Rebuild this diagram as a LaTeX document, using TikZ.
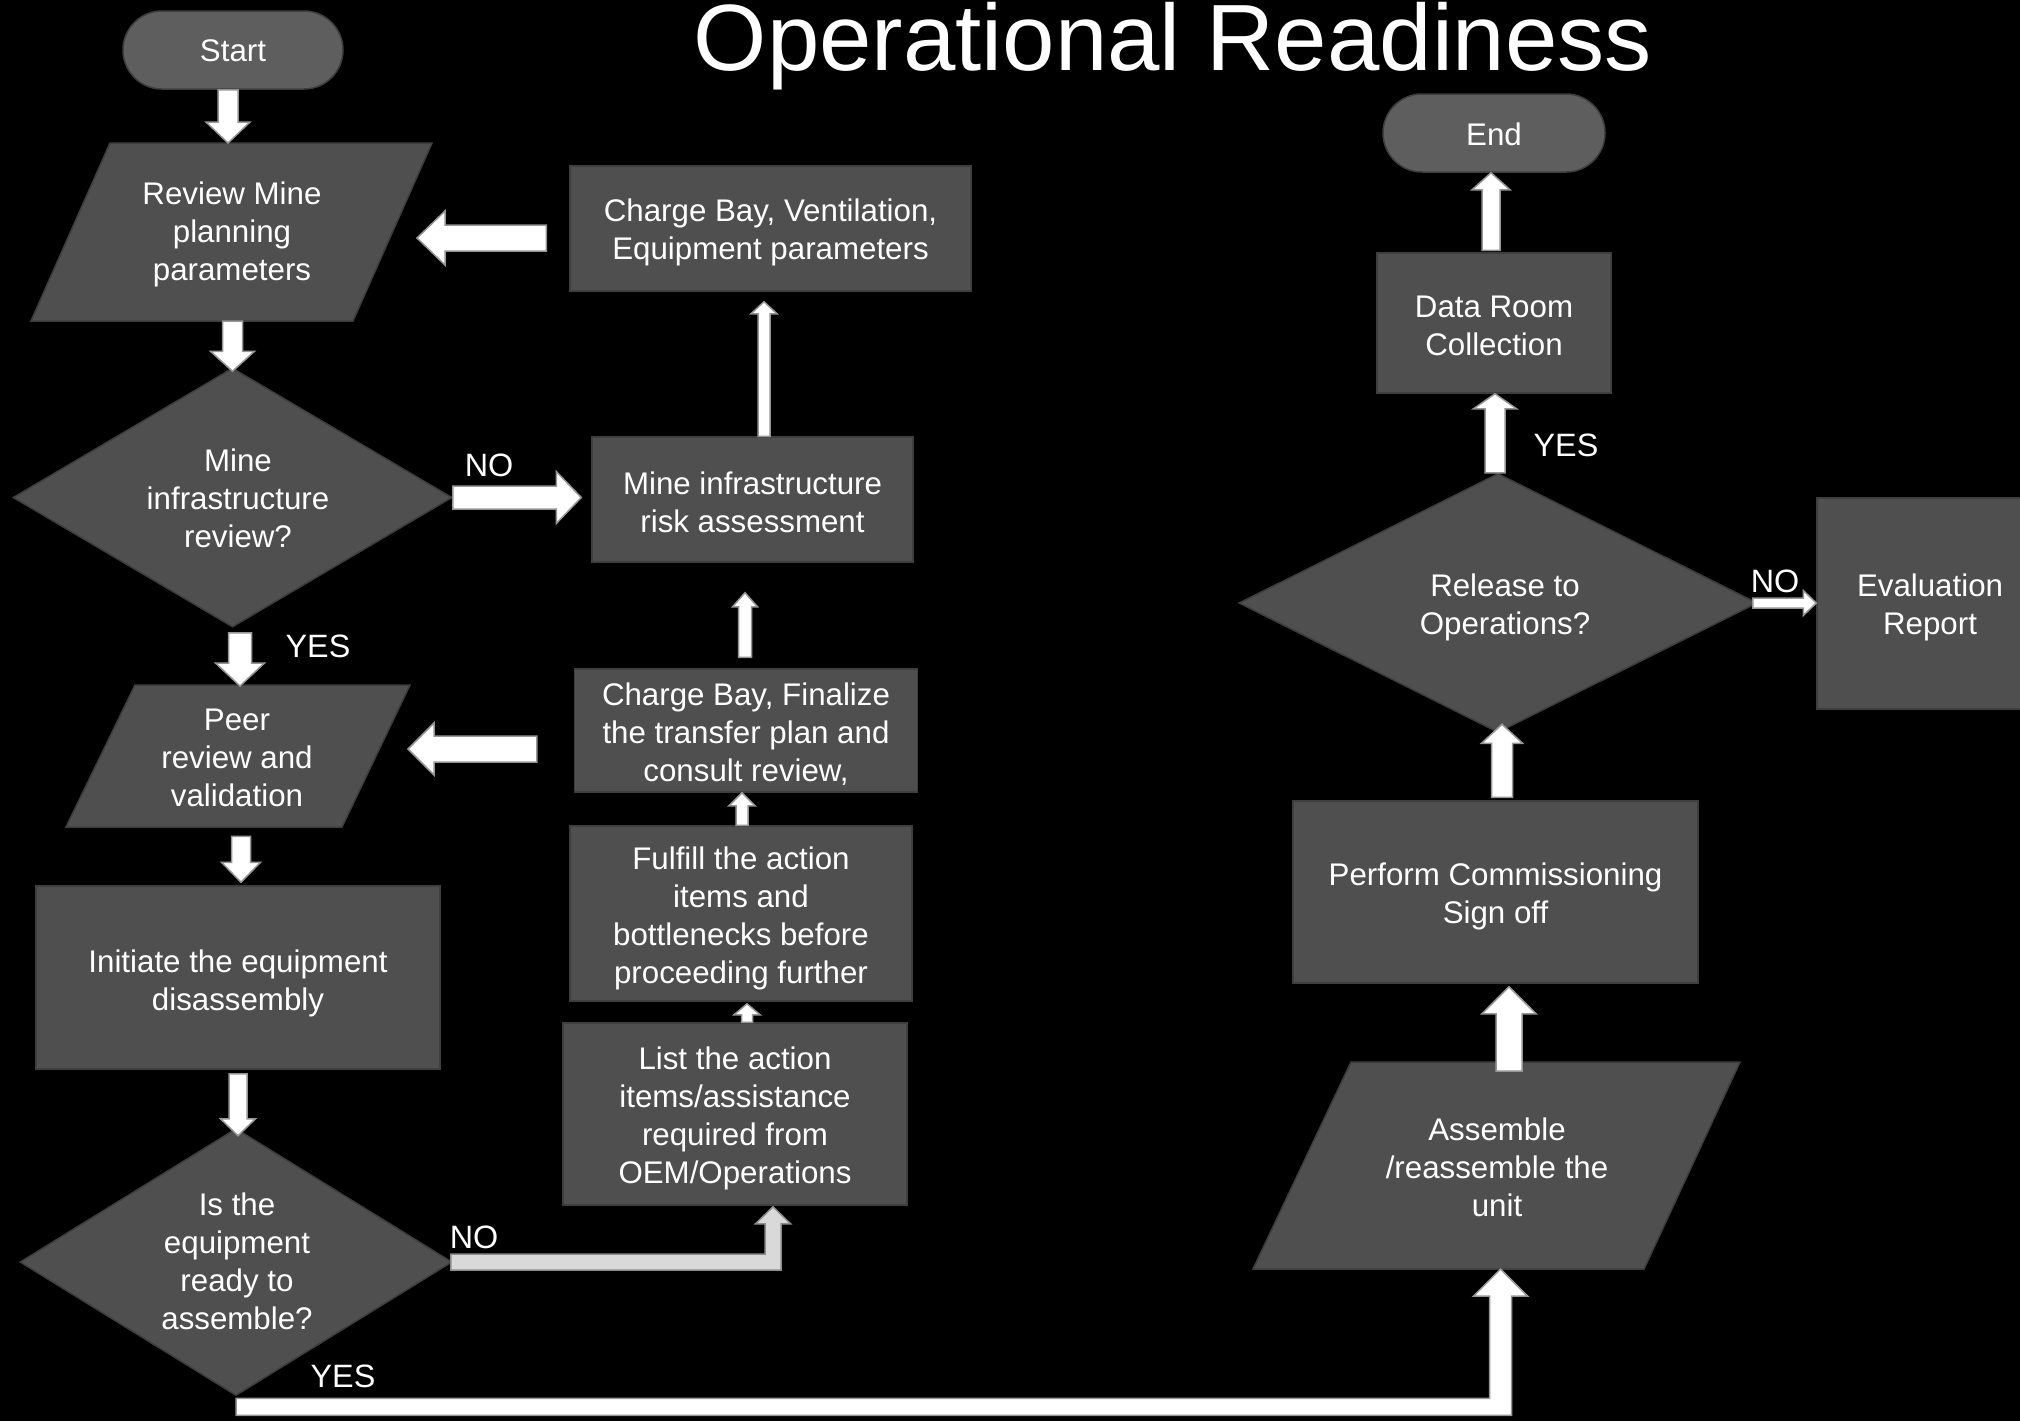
\documentclass[tikz,border=0pt]{standalone}
\usepackage{fontspec}
\setmainfont{Liberation Sans}
\usetikzlibrary{calc,shapes.geometric}
\definecolor{nodefill}{RGB}{79,79,79}
\definecolor{nodeline}{RGB}{62,62,62}
\definecolor{termfill}{RGB}{94,94,94}
\definecolor{arrline}{RGB}{150,150,150}
\definecolor{lightarr}{RGB}{217,217,217}
\definecolor{lightline}{RGB}{140,140,140}
\newcommand\blkarrow[6][barr]{%
  \coordinate (bah) at ($(#3)!#6!(#2)$);
  \path[#1] ($(#2)!#4!90:(#3)$) -- ($(bah)!#4!90:(#3)$) -- ($(bah)!#5!90:(#3)$) -- (#3)
    -- ($(bah)!#5!-90:(#3)$) -- ($(bah)!#4!-90:(#3)$) -- ($(#2)!#4!-90:(#3)$) -- cycle;}
\tikzset{
  txt/.style={text=white, align=center, inner sep=0pt, font=\fontsize{8.9}{10.8}\selectfont},
  lbl/.style={text=white, inner sep=0pt, font=\fontsize{9.2}{11}\selectfont},
  box/.style={draw=nodeline, fill=nodefill, line width=0.15mm, rectangle, inner sep=0pt},
  term/.style={draw=nodeline, fill=termfill, line width=0.15mm, rounded corners=3.9mm, inner sep=0pt},
  dia/.style={diamond, draw=nodeline, fill=nodefill, line width=0.15mm, inner sep=0pt},
  para/.style={draw=nodeline, fill=nodefill, line width=0.15mm},
  barr/.style={fill=white, draw=arrline, line width=0.15mm, line join=miter},
  larr/.style={fill=lightarr, draw=lightline, line width=0.15mm, line join=miter},
}
\begin{document}
\begin{tikzpicture}[x=0.1mm, y=-0.1mm]
\useasboundingbox (0,0) rectangle (2020,1421);
\clip (0,0) rectangle (2020,1421);
\fill[black] (0,0) rectangle (2020,1421);

% title
\node[text=white, inner sep=0pt, anchor=base, font=\fontsize{26.8}{30}\selectfont] (title) at (1173,70) {Operational Readiness};

% left column
\node[term, minimum width=22mm, minimum height=7.8mm] (start) at (233,50) {};
\node[txt] (startt) at ($(start)+(0,1)$) {Start};
\path[para] (110,143) -- (432,143) -- (353,321) -- (31,321) -- cycle;
\coordinate (revT) at (271,143);
\coordinate (revB) at (192,321);
\coordinate (revE) at (392.5,232);
\node[txt] (rev) at (232,234) {Review Mine\\planning\\parameters};

\node[dia, minimum width=43.9mm, minimum height=25.9mm] (mir) at (232.5,497.5) {};
\node[txt] (mirt) at (238,498) {Mine\\infrastructure\\review?};

\path[para] (135,685) -- (410,685) -- (342,827) -- (66,827) -- cycle;
\coordinate (peerT) at (272.5,685);
\coordinate (peerE) at (376,756);
\node[txt] (peer) at (237,758) {Peer\\review and\\validation};

\node[box, minimum width=40.4mm, minimum height=18.3mm] (init) at (238,977.5) {};
\node[txt] (initt) at ($(init)+(0,6)$) {Initiate the equipment\\disassembly};

\node[dia, minimum width=43.2mm, minimum height=26.7mm] (isq) at (236,1262) {};
\node[txt] (isqt) at (237,1261) {Is the\\equipment\\ready to\\assemble?};

% middle column
\node[box, minimum width=40.1mm, minimum height=12.5mm] (vent) at (770.5,228.5) {};
\node[txt] (ventt) at ($(vent)+(0,4)$) {Charge Bay, Ventilation,\\Equipment parameters};
\node[box, minimum width=32.1mm, minimum height=12.5mm] (risk) at (752.5,499.5) {};
\node[txt] (riskt) at ($(risk)+(0,3)$) {Mine infrastructure\\risk assessment};
\node[box, minimum width=34.3mm, minimum height=12.3mm] (fin) at (746,730.5) {};
\node[txt] (fint) at ($(fin)+(0,4)$) {Charge Bay, Finalize\\the transfer plan and\\consult review,};
\node[box, minimum width=34.2mm, minimum height=17.5mm] (ful) at (741,913.5) {};
\node[txt] (fult) at ($(ful)+(0,5)$) {Fulfill the action\\items and\\bottlenecks before\\proceeding further};
\node[box, minimum width=34.4mm, minimum height=18.2mm] (lst) at (735,1114) {};
\node[txt] (lstt) at ($(lst)+(0,4)$) {List the action\\items/assistance\\required from\\OEM/Operations};

% right column
\node[term, minimum width=22.2mm, minimum height=7.8mm] (end) at (1494,133) {};
\node[txt] (endt) at ($(end)+(0,1)$) {End};
\node[box, minimum width=23.4mm, minimum height=14mm] (data) at (1494,323) {};
\node[txt] (datat) at ($(data)+(0,3)$) {Data Room\\Collection};
\node[dia, minimum width=51.8mm, minimum height=25.9mm] (rel) at (1498,603) {};
\node[txt] (relt) at (1505,607) {Release to\\Operations?};
\node[box, minimum width=22.6mm, minimum height=21.1mm] (eva) at (1930,603.5) {};
\node[txt] (evat) at ($(eva)+(0,4)$) {Evaluation\\Report};
\node[box, minimum width=40.5mm, minimum height=18.2mm] (perf) at (1495.5,892) {};
\node[txt] (perft) at ($(perf)+(0,4)$) {Perform Commissioning\\Sign off};
\path[para] (1351,1062) -- (1740,1062) -- (1644,1269) -- (1253,1269) -- cycle;
\coordinate (asmT) at (1545.5,1062);
\coordinate (asmB) at (1448.5,1269);
\node[txt] (asm) at (1497,1167) {Assemble\\/reassemble the\\unit};

% arrows
\coordinate (a1a) at ($(start.south)+(-5,0)$);
\coordinate (a1b) at (a1a |- revT);
\blkarrow{a1a}{a1b}{1mm}{2.2mm}{2.1mm}

\coordinate (a2a) at (mir.north |- revB);
\coordinate (a2b) at ($(mir.north)+(0,4)$);
\blkarrow{a2a}{a2b}{1mm}{2.2mm}{2mm}

\coordinate (a3a) at (mir.east);
\coordinate (a3b) at ($(risk.west |- mir.east)+(-10,0)$);
\blkarrow{a3a}{a3b}{1.15mm}{2.6mm}{2.5mm}

\coordinate (a4a) at ($(risk.north)+(11.5,0)$);
\coordinate (a4b) at ($(a4a |- vent.south)+(0,10)$);
\blkarrow{a4a}{a4b}{0.6mm}{1.3mm}{1.2mm}

\coordinate (a5a) at ($(vent.west)+(-23,9.5)$);
\coordinate (a5b) at ($(revE |- a5a)+(24.5,0)$);
\blkarrow{a5a}{a5b}{1.3mm}{2.7mm}{2.8mm}

\coordinate (a6a) at ($(mir.south)+(7.5,5)$);
\coordinate (a6b) at ($(a6a |- peerT)+(0,1)$);
\blkarrow{a6a}{a6b}{1.15mm}{2.45mm}{2.3mm}

\coordinate (a7a) at ($(fin.west)+(-37,18.5)$);
\coordinate (a7b) at ($(peerE |- a7a)+(32,0)$);
\blkarrow{a7a}{a7b}{1.3mm}{2.6mm}{2.6mm}

\coordinate (a8a) at ($(init.north)+(3,-49)$);
\coordinate (a8b) at ($(init.north)+(3,-3)$);
\blkarrow{a8a}{a8b}{0.95mm}{1.95mm}{2mm}

\coordinate (a9a) at ($(init.south)+(0,4)$);
\coordinate (a9b) at ($(a9a |- isq.north)+(0,8)$);
\blkarrow{a9a}{a9b}{0.9mm}{1.75mm}{1.7mm}

\coordinate (a10a) at ($(lst.north)+(12,0)$);
\coordinate (a10b) at ($(a10a |- ful.south)+(0,2)$);
\blkarrow{a10a}{a10b}{0.55mm}{1.3mm}{1.1mm}

\coordinate (a11a) at ($(ful.north)+(1,0)$);
\coordinate (a11b) at (a11a |- fin.south);
\blkarrow{a11a}{a11b}{0.6mm}{1.3mm}{1.3mm}

\coordinate (a12a) at ($(fin.north)+(-1,-11)$);
\coordinate (a12b) at ($(a12a |- risk.south)+(0,30)$);
\blkarrow{a12a}{a12b}{0.65mm}{1.25mm}{1.4mm}

\coordinate (a15a) at ($(asmT)+(-36.5,9)$);
\coordinate (a15b) at ($(a15a |- perf.south)+(0,3)$);
\blkarrow{a15a}{a15b}{1.3mm}{2.7mm}{2.7mm}

\coordinate (a16a) at ($(perf.north)+(6.5,-3)$);
\coordinate (a16b) at ($(a16a |- rel.south)+(0,-9)$);
\blkarrow{a16a}{a16b}{1.05mm}{2.05mm}{1.9mm}

\coordinate (a17a) at ($(rel.north)+(-3,0)$);
\coordinate (a17b) at (a17a |- data.south);
\blkarrow{a17a}{a17b}{1mm}{2.15mm}{1.5mm}

\coordinate (a18a) at ($(data.north)+(-3,-2)$);
\coordinate (a18b) at (a18a |- end.south);
\blkarrow{a18a}{a18b}{0.9mm}{1.9mm}{1.7mm}

\coordinate (a19a) at ($(rel.east)+(-5,0)$);
\coordinate (a19b) at (eva.west |- a19a);
\blkarrow{a19a}{a19b}{0.5mm}{1.25mm}{1.3mm}

% bent NO arrow: decision -> list
\coordinate (n1) at (isq.east);
\coordinate (n2) at ($(lst.south)+(38,0)$);
\path[larr] ($(n1)+(-2,-8)$) -- ($(n2 |- n1)+(-8,-8)$) -- ($(n2)+(-8,18)$) -- ($(n2)+(-17.5,18)$)
  -- ($(n2)+(0,1)$) -- ($(n2)+(17.5,18)$) -- ($(n2)+(8,18)$) -- ($(n2 |- n1)+(8,8)$)
  -- ($(n1)+(-2,8)$) -- cycle;

% bent YES arrow: decision -> assemble
\coordinate (m1) at (isq.south);
\coordinate (m2) at ($(asmB)+(52,0)$);
\coordinate (m3) at (m2 |- m1);
\path[barr] ($(m1)+(0,2)$) -- ($(m3)+(-11,2)$) -- ($(m2)+(-11,27)$) -- ($(m2)+(-27,27)$)
  -- (m2) -- ($(m2)+(27,27)$) -- ($(m2)+(11,27)$) -- ($(m3)+(11,19)$)
  -- ($(m1)+(0,19)$) -- cycle;

% labels
\node[lbl] (no1) at (489,465) {NO};
\node[lbl] (yes1) at (318,646) {YES};
\node[lbl] (no2) at (474,1237) {NO};
\node[lbl] (yes2) at (343,1376) {YES};
\node[lbl] (yes3) at (1566,445) {YES};
\node[lbl] (no3) at (1775,581) {NO};
\end{tikzpicture}
\end{document}
